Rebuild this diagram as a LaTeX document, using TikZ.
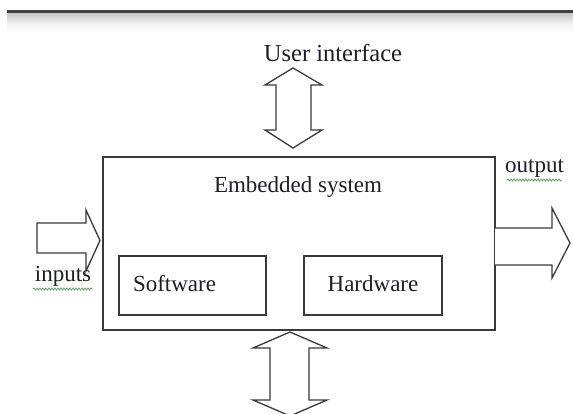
\documentclass[tikz,border=0pt]{standalone}
\usepackage{fontspec}
\setmainfont{Liberation Serif}
\usetikzlibrary{decorations.pathmorphing}
\definecolor{linecol}{HTML}{3A3A3A}
\definecolor{txtcol}{HTML}{1E1E28}
\definecolor{spellcol}{RGB}{95,165,95}
\tikzset{
  outline/.style={draw=linecol, line width=1.4pt, line join=miter},
  blockarrow/.style={draw=linecol, line width=1.3pt, fill=white, line join=miter},
  lbl/.style={text=txtcol, font=\fontsize{23}{26}\selectfont, inner sep=0pt},
  innerbox/.style={outline, minimum height=59pt, inner xsep=0pt, inner ysep=0pt,
     text=txtcol, font=\fontsize{23}{26}\selectfont, text height=15.5pt, text depth=4.5pt},
  squiggle/.style={draw=spellcol, line width=0.8pt,
     decorate, decoration={snake, amplitude=1pt, segment length=3pt}}
}
\begin{document}
\begin{tikzpicture}[x=1pt, y=-1pt]
\clip (0,0) rectangle (573,414);
\fill[white] (0,0) rectangle (573,414);
% top rule with soft shadow
\shade[top color=black!22, bottom color=white, middle color=black!5] (7,13) rectangle (573,34);
\fill[black!75] (7,10.5) rectangle (573,13.5);

% main box
\node[outline, minimum width=392pt, minimum height=173pt, inner sep=0pt] (sys) at (299,243.5) {};
\node[lbl, anchor=base] (systxt) at (298,193) {Embedded system};

% inner boxes
\node[innerbox, minimum width=147pt, text width=119pt, align=left] (sw) at (192.5,285.5) {Software};
\node[innerbox, minimum width=138pt, align=center] (hw) at (373,285.5) {Hardware};

% user interface
\node[lbl, anchor=base, font=\fontsize{24.5}{28}\selectfont] (ui) at (333,62) {User interface};

% top double arrow
\draw[blockarrow] (293,68) -- (322,85) -- (311,85) -- (311,130) -- (322,130) -- (293,148)
   -- (265,130) -- (276,130) -- (276,85) -- (265,85) -- cycle;

% bottom double arrow
\draw[blockarrow] (290,332) -- (327,348) -- (309,348) -- (309,400) -- (327,400) -- (290,416)
   -- (253,400) -- (270,400) -- (270,348) -- (253,348) -- cycle;

% input arrow
\draw[blockarrow] (37,223) -- (86,223) -- (86,210) -- (100,240.5) -- (86,271) -- (86,253)
   -- (37,253) -- cycle;
\node[lbl, anchor=base] (in) at (63,281) {inputs};
\draw[squiggle] (33,289) -- (93,289);

% output arrow
\draw[blockarrow] (495,228) -- (552,228) -- (552,208) -- (570,243) -- (552,278) -- (552,265)
   -- (495,265);
\node[lbl, anchor=base] (out) at (534.5,173) {output};
\draw[squiggle] (507,180) -- (562,180);
\end{tikzpicture}
\end{document}
